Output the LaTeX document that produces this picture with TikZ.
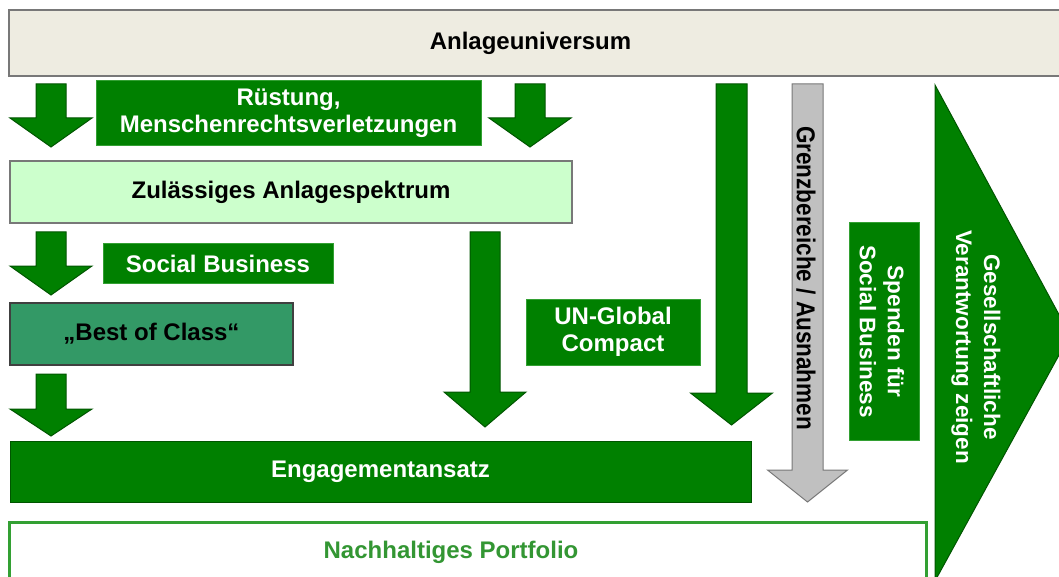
\documentclass[tikz,border=0pt]{standalone}
\usepackage{fontspec}
\setmainfont{Liberation Sans}
\definecolor{dg}{RGB}{0,128,0}
\definecolor{dgline}{RGB}{0,85,0}
\definecolor{lgline}{RGB}{51,160,51}
\definecolor{beige}{RGB}{238,236,225}
\definecolor{mint}{RGB}{204,255,204}
\definecolor{sea}{RGB}{51,153,102}
\definecolor{grayfill}{RGB}{192,192,192}
\definecolor{grayline}{RGB}{120,120,120}
\definecolor{portgreen}{RGB}{51,150,51}
\newcommand{\blockdown}[7]{%
  \draw[#1] ({#2-#6},#3) -- ({#2+#6},#3) -- ({#2+#6},#4) -- ({#2+#7},#4) --
    (#2,#5) -- ({#2-#7},#4) -- ({#2-#6},#4) -- cycle;}
\tikzset{
  lbl/.style={font=\fontsize{24}{27}\selectfont\bfseries, align=center, inner sep=0pt},
  rlbl/.style={font=\fontsize{22.5}{28}\selectfont\bfseries, align=center, inner sep=0pt, rotate=-90},
  greenbox/.style={lbl, fill=dg, draw=lgline, line width=1pt, text=white},
  greenarrow/.style={fill=dg, draw=dgline, line width=1pt},
  grayarrow/.style={fill=grayfill, draw=grayline, line width=1pt},
}
\begin{document}
\begin{tikzpicture}[x=1pt, y=-1pt]
\useasboundingbox (0,0) rectangle (1059,577);
\clip (0,0) rectangle (1059,577);
% top box
\node[fill=beige, draw=grayline, line width=2pt, minimum width=1057pt, minimum height=66pt, inner sep=0pt] (anlbox) at (537.5,43) {};
\node[lbl, text=black] (anl) at (530.5,43) {Anlageuniversum};
% arrows
\blockdown{greenarrow}{51}{84}{118}{147}{15}{41}
\blockdown{greenarrow}{530}{84}{118}{147}{15}{41}
\blockdown{greenarrow}{51}{232}{266}{295}{15}{41}
\blockdown{greenarrow}{51}{374}{409}{436}{15}{41}
\blockdown{greenarrow}{485}{232}{392}{427}{15}{41}
\blockdown{greenarrow}{731.5}{84}{393}{425}{15.5}{41}
\blockdown{grayarrow}{807.5}{84}{470}{502}{15.5}{40}
% boxes
\node[greenbox, minimum width=385pt, minimum height=65pt] (rue) at (288.5,113.5) {Rüstung,\\Menschenrechtsverletzungen};
\node[lbl, fill=mint, draw=grayline, line width=1.5pt, minimum width=562pt, minimum height=62pt] (zul) at (291,192) {Zulässiges Anlagespektrum};
\node[greenbox, minimum width=230pt, minimum height=39pt] (soc) at (218,263.5) {Social Business};
\node[lbl, fill=sea, draw=black!75, line width=1.5pt, minimum width=283pt, minimum height=62pt, text=black] (boc) at (151.5,334) {\raisebox{3pt}{„Best of Class“}};
\node[greenbox, draw=dgline, minimum width=741pt, minimum height=61pt] (eng) at (380.5,471.5) {Engagementansatz};
\node[greenbox, minimum width=174pt, minimum height=66pt] (un) at (613,332) {UN-Global\\Compact};
\node[greenbox, minimum width=217pt, minimum height=70pt, rotate=-90] (spe) at (884,331.5) {};
\node[rlbl, text=white] (spet) at (882,331.5) {Spenden für\\Social Business};
% grey arrow label
\node[rlbl, text=black] (grenz) at (806,278) {\scalebox{1}[1.15]{Grenzbereiche / Ausnahmen}};
% big triangle arrow
\draw[fill=dg, draw=dgline, line width=1pt] (935,85) -- (1070,335) -- (935,581) -- cycle;
\node[rlbl, text=white] (ges) at (976,347) {Gesellschaftliche\\Verantwortung zeigen};
% portfolio
\draw[draw=lgline, line width=3pt, fill=white] (9.5,522.5) rectangle (926,600);
\node[lbl, text=portgreen] (port) at (451,552) {Nachhaltiges Portfolio};
\end{tikzpicture}
\end{document}
